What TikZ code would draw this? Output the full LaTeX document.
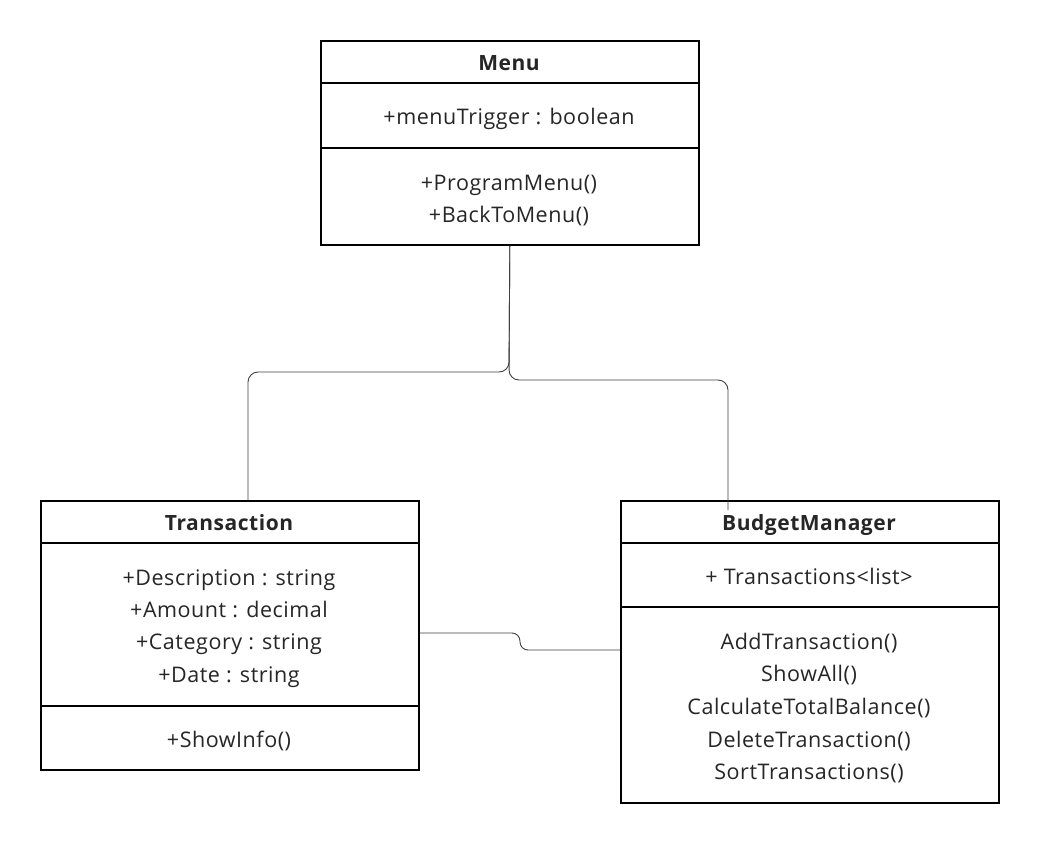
\documentclass[tikz,border=0pt]{standalone}
\usepackage{fontspec}
\setmainfont{Open Sans}[LetterSpace=2.5]
\begin{document}
\begin{tikzpicture}[x=1pt,y=-1pt,
  classbox/.style={draw=black,line width=1.6pt,rectangle,anchor=north west,inner sep=0pt},
  divider/.style={draw=black,line width=1.6pt},
  lbl/.style={font=\fontsize{21.5}{24}\selectfont,text=black!85,inner sep=0pt,text height=19pt,text depth=4pt},
  ttl/.style={lbl,font=\fontsize{21}{24}\selectfont\bfseries},
  conn/.style={draw=black!75,line width=0.9pt,rounded corners=10pt}]
\useasboundingbox[fill=white] (0,0) rectangle (1038,843);
% boxes
\node[classbox,minimum width=378pt,minimum height=204pt] (menu) at (320,40) {};
\node[classbox,minimum width=378pt,minimum height=269pt] (trans) at (40,500) {};
\node[classbox,minimum width=378pt,minimum height=302pt] (bm) at (620,500) {};
% dividers
\draw[divider] (320,83) -- (698,83);
\draw[divider] (320,148) -- (698,148);
\draw[divider] (40,543) -- (418,543);
\draw[divider] (40,706) -- (418,706);
\draw[divider] (620,543) -- (998,543);
\draw[divider] (620,607) -- (998,607);
% Menu texts
\node[ttl] (mt) at (509,63) {Menu};
\node[lbl] (ma) at (509,117) {+menuTrigger : boolean};
\node[lbl] (mm1) at (509,183) {+ProgramMenu()};
\node[lbl] (mm2) at (509,215) {+BackToMenu()};
% Transaction texts
\node[ttl] (tt) at (229,523) {Transaction};
\node[lbl] (ta1) at (229,578) {+Description : string};
\node[lbl] (ta2) at (229,610) {+Amount : decimal};
\node[lbl] (ta3) at (229,642) {+Category : string};
\node[lbl] (ta4) at (229,675) {+Date : string};
\node[lbl] (tm1) at (229,740) {+ShowInfo()};
% BudgetManager texts
\node[ttl] (bt) at (809,523) {BudgetManager};
\node[lbl] (ba1) at (809,577) {+ Transactions<list>};
\node[lbl] (bm1) at (809,642) {AddTransaction()};
\node[lbl] (bm2) at (809,674) {ShowAll()};
\node[lbl] (bm3) at (809,707) {CalculateTotalBalance()};
\node[lbl] (bm4) at (809,740) {DeleteTransaction()};
\node[lbl] (bm5) at (809,772) {SortTransactions()};
% connectors
\coordinate (bmend) at (728,510);
\draw[conn] (menu.south) -- (509,372) -- (248,372) -- (trans.north -| 248,0);
\draw[conn] (menu.south) -- (509,380) -- (728,380) -- (bmend);
\draw[conn,rounded corners=8pt] (trans.east |- 0,633) -- (520,633) -- (520,650) -- (bm.west |- 0,650);
\end{tikzpicture}
\end{document}
